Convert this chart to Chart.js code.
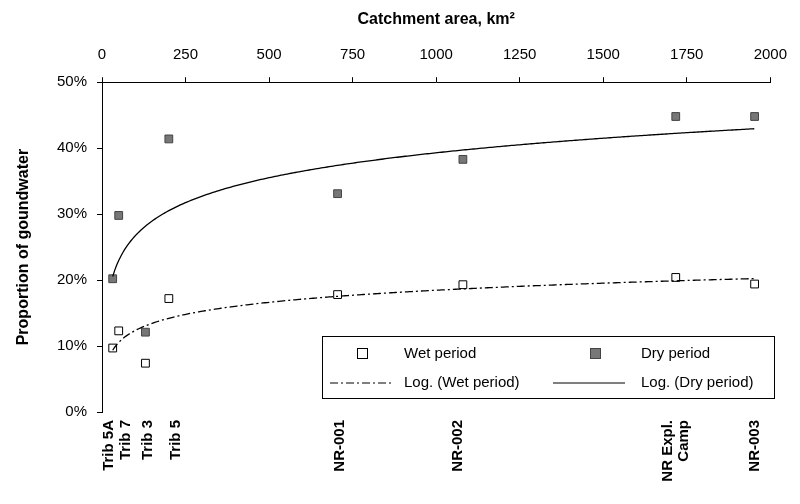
<!DOCTYPE html>
<html><head><meta charset="utf-8">
<script src="https://cdn.jsdelivr.net/npm/chart.js@4/dist/chart.umd.min.js"></script>
<style>body{margin:0;background:#fff}#wrap{width:800px;height:504px}</style>
</head><body><div id="wrap"><canvas id="c"></canvas></div>
<script>
const siteNames = ['Trib 5A', 'Trib 7', 'Trib 3', 'Trib 5', 'NR-001', 'NR-002', ['NR Expl.', 'Camp'], 'NR-003'];
const areas = [32, 50, 130, 200, 705, 1080, 1717, 1953];
const labelAreas = [22, 72, 136, 222, 711, 1065, 1717, 1953];
const wetValues = [9.7, 12.3, 7.4, 17.2, 17.8, 19.3, 20.4, 19.4];
const dryValues = [20.2, 29.8, 12.1, 41.4, 33.1, 38.3, 44.8, 44.8];

// log regression y = a*ln(x) + b
function logFit(xs, ys) {
  const lx = xs.map(Math.log), n = xs.length;
  const mx = lx.reduce((s, v) => s + v, 0) / n, my = ys.reduce((s, v) => s + v, 0) / n;
  let sxy = 0, sxx = 0;
  lx.forEach((v, i) => { sxy += (v - mx) * (ys[i] - my); sxx += (v - mx) ** 2; });
  const a = sxy / sxx, b = my - a * mx;
  const pts = [];
  for (let x = areas[0]; x <= areas[areas.length - 1]; x += 6) pts.push({ x: x, y: a * Math.log(x) + b });
  return pts;
}
const pts = (ys) => areas.map((x, i) => ({ x: x, y: ys[i] }));

const extras = {
  id: 'extras',
  afterDraw(chart) {
    const ctx = chart.ctx, xs = chart.scales.x, bottom = chart.chartArea.bottom;
    ctx.save();
    // bottom site labels, reading upward
    ctx.font = 'bold 15px Arial, "Liberation Sans"'; ctx.fillStyle = '#000';
    ctx.textAlign = 'right'; ctx.textBaseline = 'middle';
    labelAreas.forEach((v, i) => {
      const lines = [].concat(siteNames[i]);
      lines.forEach((t, j) => {
        ctx.save();
        ctx.translate(xs.getPixelForValue(v) + (j - (lines.length - 1) / 2) * 16, bottom + 8);
        ctx.rotate(-Math.PI / 2);
        ctx.fillText(t, 0, 0);
        ctx.restore();
      });
    });
    // legend
    const x0 = 322, y0 = 336, w = 452, h = 62;
    ctx.textAlign = 'left';
    ctx.fillStyle = '#fff'; ctx.fillRect(x0, y0, w, h);
    ctx.strokeStyle = '#000'; ctx.lineWidth = 1; ctx.strokeRect(x0 + .5, y0 + .5, w, h);
    ctx.font = '15px Arial, "Liberation Sans"'; ctx.fillStyle = '#000';
    ctx.strokeRect(357.5, 348.5, 10, 10); ctx.fillText('Wet period', 404, 354);
    ctx.fillStyle = '#777'; ctx.fillRect(590, 348, 11, 11); ctx.strokeStyle = '#444'; ctx.strokeRect(590.5, 348.5, 10, 10);
    ctx.fillStyle = '#000'; ctx.fillText('Dry period', 641, 354);
    ctx.strokeStyle = '#000'; ctx.setLineDash([8, 3, 2, 3]);
    ctx.beginPath(); ctx.moveTo(330, 383); ctx.lineTo(392, 383); ctx.stroke();
    ctx.setLineDash([]);
    ctx.beginPath(); ctx.moveTo(553, 383); ctx.lineTo(625, 383); ctx.stroke();
    ctx.fillText('Log. (Wet period)', 404, 383); ctx.fillText('Log. (Dry period)', 641, 383);
    ctx.restore();
  }
};

Chart.defaults.font.family = 'Arial, "Liberation Sans"';
Chart.defaults.color = '#000';
new Chart(document.getElementById('c'), {
  type: 'scatter',
  data: {
    datasets: [
      { label: 'Log. (Dry period)', data: logFit(areas, dryValues), showLine: true, pointRadius: 0, borderColor: '#000', borderWidth: 1.3 },
      { label: 'Log. (Wet period)', data: logFit(areas, wetValues), showLine: true, pointRadius: 0, borderColor: '#000', borderWidth: 1.3, borderDash: [8, 3, 2, 3] },
      { label: 'Dry period', data: pts(dryValues), pointStyle: 'rect', pointRadius: 5.5, backgroundColor: '#777', borderColor: '#444', borderWidth: 1 },
      { label: 'Wet period', data: pts(wetValues), pointStyle: 'rect', pointRadius: 5.5, backgroundColor: '#fff', borderColor: '#000', borderWidth: 1 }
    ]
  },
  options: {
    responsive: true, maintainAspectRatio: false, animation: false,
    layout: { padding: { right: 2, left: 10, bottom: 92, top: 6 } },
    plugins: { legend: { display: false }, tooltip: { enabled: false } },
    scales: {
      x: {
        position: 'top', min: 0, max: 2000,
        ticks: { stepSize: 250, font: { size: 15 }, callback: v => String(v), padding: 13 },
        grid: { display: true, drawOnChartArea: false, tickLength: 5, color: '#000' },
        border: { color: '#000' },
        title: { display: true, text: 'Catchment area, km²', font: { size: 16, weight: 'bold' }, padding: { bottom: 4 } }
      },
      y: {
        min: 0, max: 50,
        afterFit(axis) { axis.width = 92; },
        ticks: { stepSize: 10, font: { size: 15 }, callback: v => v + '%', padding: 10 },
        grid: { display: true, drawOnChartArea: false, tickLength: 5, color: '#000' },
        border: { color: '#000' },
        title: { display: true, text: 'Proportion of goundwater', font: { size: 16, weight: 'bold' } }
      }
    }
  },
  plugins: [extras]
});
</script></body></html>
